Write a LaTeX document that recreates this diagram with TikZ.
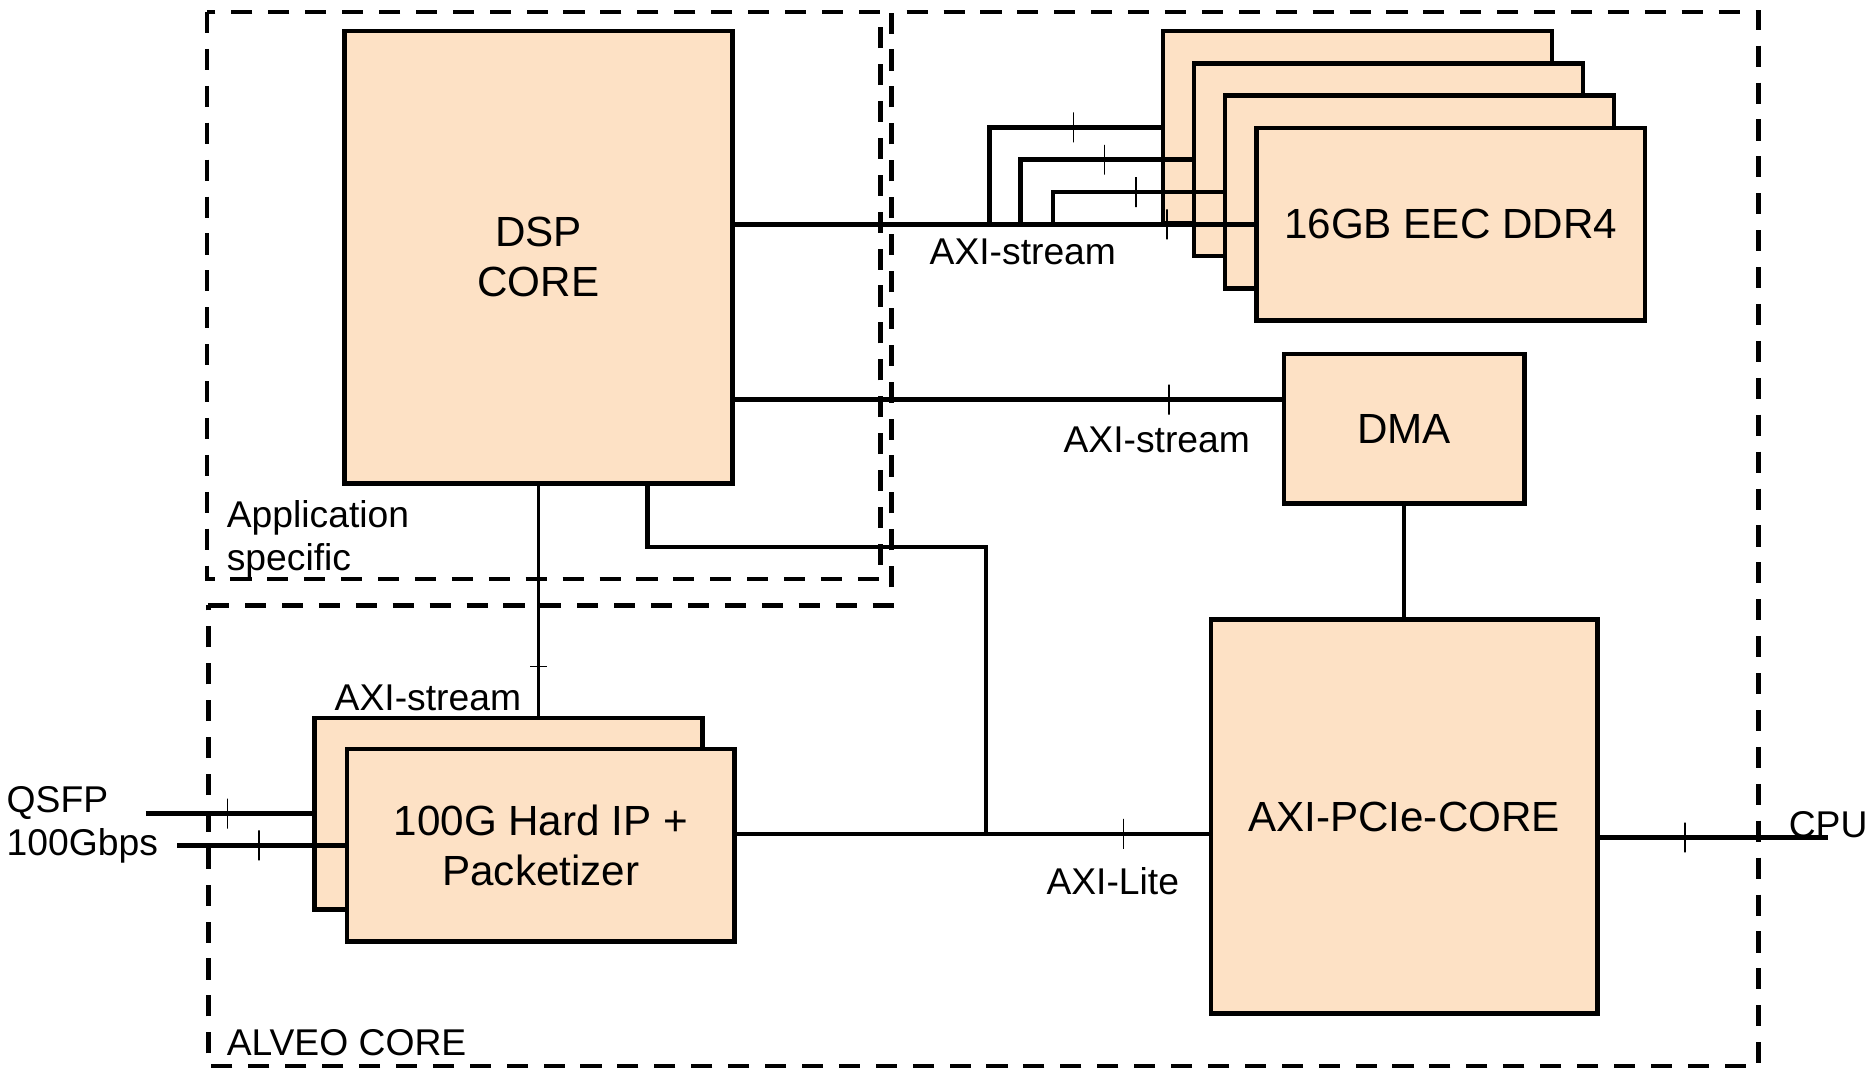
\documentclass[tikz,border=0pt]{standalone}
\usepackage{fontspec}
\setmainfont{Liberation Sans}
\usepackage{tikz}
\usetikzlibrary{positioning,calc}
\definecolor{peach}{RGB}{253,225,197}
\newcommand{\pxunit}{0.011964cm}

\begin{document}
\begin{tikzpicture}[x=\pxunit, y=-\pxunit,
    blk/.style={draw, line width=1.3pt, fill=peach, inner sep=0pt, align=center,
      font=\fontsize{12}{14.3}\selectfont},
    sz/.style 2 args={minimum width=#1*\pxunit, minimum height=#2*\pxunit},
    zone/.style={line width=1.35pt, dash pattern=on 6pt off 4.5pt},
    bus/.style={line width=1.3pt},
    thinbus/.style={line width=1.05pt},
    tk/.style={draw, line width=0.45pt, inner sep=0pt, minimum width=0pt, minimum height=25*\pxunit},
    tkh/.style={draw, line width=0.45pt, inner sep=0pt, minimum height=0pt, minimum width=14*\pxunit},
    lbl/.style={inner sep=0pt, align=left, font=\fontsize{10.6}{12.2}\selectfont}]
    \useasboundingbox (0,0) rectangle (1568,895);

    \draw[zone] (173,10) rectangle (736,484);
    \draw[zone] (174,506) -- (745,506) -- (745,10) -- (1470,10) -- (1470,891) -- (174,891) -- cycle;
    \node[lbl, anchor=north west, font=\fontsize{10.6}{12}\selectfont] (applbl) at (189,418) {Application\\specific};
    \node[lbl, anchor=base west] (alveolbl) at (189,882) {ALVEO CORE};

    \node[blk, sz={324}{378}] (dsp) at (450,215) {DSP\\CORE};
    \foreach \i in {1,2,3}
      \node[blk, sz={325}{161}] (ddr\i) at ({1108.5+26*\i},{79.5+27*\i}) {};
    \node[blk, sz={325}{161}] (ddr4) at (1212.5,187.5) {16GB EEC DDR4};
    \node[blk, sz={201}{125}] (dma) at (1173.5,358.5) {DMA};
    \node[blk, sz={323}{329}] (pcie) at (1173.5,682.5) {AXI-PCIe-CORE};
    \node[blk, sz={324}{160}] (hip1) at (425,680) {};
    \node[blk, sz={324}{161}] (hip2) at (452,706.5) {100G Hard IP +\\Packetizer};

    \draw[bus] (dsp.east |- ddr4.west) -- node[tk, pos=0.833]{} node[lbl, pos=0.555, below=3.6pt]{AXI-stream} (ddr4.west);
    \foreach \i/\x in {1/827,2/853,3/880} {
      \coordinate (br\i) at (\x,187.5);
      \draw[bus] (br\i) |- node[tk, pos=0.745]{} (ddr\i.west);
    }

    \coordinate (dmain) at ($(dma.north west)!0.31!(dma.south west)$);
    \draw[bus] (dmain -| dsp.east) -- node[tk, pos=0.794]{} node[lbl, pos=0.772, below=7pt]{AXI-stream} (dmain);
    \draw[bus] (dma.south) -- (pcie.north);

    \coordinate (cpu) at (1528,700);
    \draw[bus] (cpu -| pcie.east) -- node[tk, pos=0.373]{} (cpu) node[lbl, anchor=base]{CPU};

    \coordinate (q1) at (122,680);
    \coordinate (q2) at (148,706.5);
    \draw[bus] (q1) -- node[tk, pos=0.49]{} (hip1.west);
    \draw[bus] (q2) -- node[tk, pos=0.49]{} (hip2.west);
    \node[lbl, anchor=north west] (qsfplbl) at (5,657) {QSFP\\100Gbps};

    \draw[thinbus] (dsp.south) -- node[tkh, pos=0.786]{} (dsp.south |- hip1.north)
      node[lbl, anchor=south east, xshift=-4.4pt, yshift=0.7pt]{AXI-stream};

    \coordinate (dspo) at ($(dsp.south west)!0.778!(dsp.south east)$);
    \coordinate (bend) at (824,457);
    \coordinate (lite) at (824,697);
    \draw[bus] (dspo) |- (bend) -- (lite);
    \draw[bus] (lite -| hip2.east) -- node[tk, pos=0.82]{} node[lbl, pos=0.797, below=8.8pt]{AXI-Lite} (lite -| pcie.west);
  \end{tikzpicture}
\end{document}
